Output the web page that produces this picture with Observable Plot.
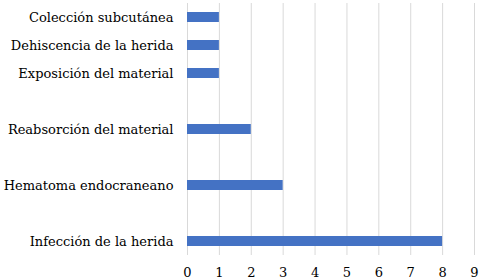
<!DOCTYPE html>
<html>
<head>
<meta charset="utf-8">
<script src="https://cdn.jsdelivr.net/npm/d3@7"></script>
<script src="https://cdn.jsdelivr.net/npm/@observablehq/plot@0.6"></script>
<style>
  html, body { margin: 0; padding: 0; background: #fff; }
  svg { display: block; }
  svg text { font-family: "DejaVu Serif", "Noto Serif", serif !important; fill: #000; }
</style>
</head>
<body>
<div id="chart"></div>
<script>
const categories = [
  "Colección subcutánea",
  "Dehiscencia de la herida",
  "Exposición del material",
  "Reabsorción del material",
  "Hematoma endocraneano",
  "Infección de la herida"
];
const values = [1, 1, 1, 2, 3, 8];
const xTicks = [0, 1, 2, 3, 4, 5, 6, 7, 8, 9];
// empty slots in the category axis (as in the original)
const gapSlots = [" ", "  ", "   "];

const yDomain = [
  categories[0], categories[1], categories[2], gapSlots[0],
  categories[3], gapSlots[1], categories[4], gapSlots[2], categories[5]
];
const data = categories.map((c, i) => ({category: c, value: values[i]}));

const serif = "'DejaVu Serif', serif";
const chart = Plot.plot({
  width: 480,
  height: 279,
  marginLeft: 187,
  marginRight: 6,
  marginTop: 3,
  marginBottom: 24,
  style: {fontFamily: serif, color: "#000", background: "#fff"},
  x: {domain: [0, 9]},
  y: {domain: yDomain, paddingInner: 0.66, paddingOuter: 0.33},
  marks: [
    Plot.ruleX(xTicks, {stroke: "#d9d9d9", strokeWidth: 1}),
    Plot.barX(data, {x: "value", y: "category", fill: "#4472C4"}),
    Plot.axisX({ticks: xTicks, tickSize: 0, tickPadding: 12, fontSize: 13, fontFamily: serif, tickFormat: d => String(d), label: null}),
    Plot.axisY({tickSize: 0, tickPadding: 14, fontSize: 13, fontFamily: serif, label: null, tickFormat: d => d.trim()})
  ]
});
document.getElementById("chart").appendChild(chart);
</script>
</body>
</html>
